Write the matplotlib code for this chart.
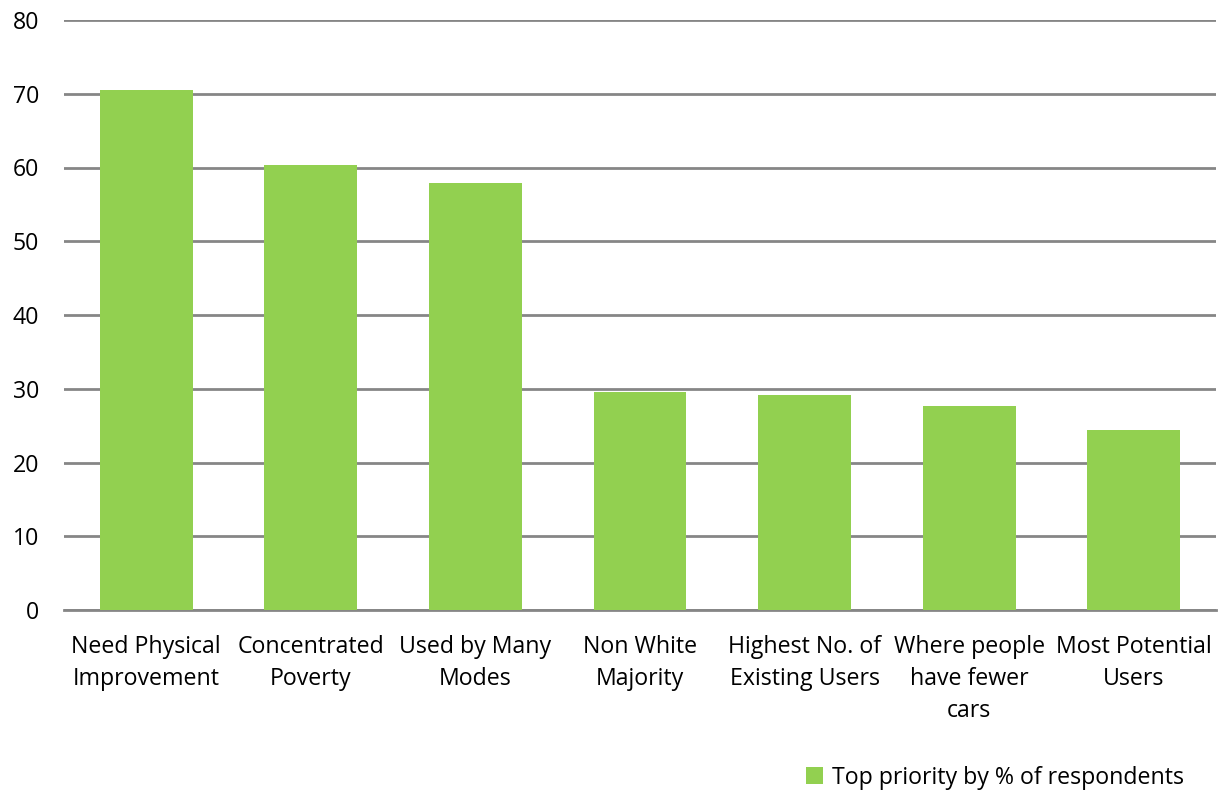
import matplotlib
matplotlib.use("Agg")
import matplotlib.pyplot as plt
from matplotlib.patches import Patch

categories = ["Need Physical\nImprovement", "Concentrated\nPoverty", "Used by Many\nModes",
              "Non White\nMajority", "Highest No. of\nExisting Users", "Where people\nhave fewer\ncars",
              "Most Potential\nUsers"]
values = [70.5, 60.3, 57.9, 29.6, 29.1, 27.7, 24.4]
series_name = "Top priority by % of respondents"
yticks = [0, 10, 20, 30, 40, 50, 60, 70, 80]

plt.rcParams['font.family'] = ['Open Sans', 'DejaVu Sans']

fig = plt.figure(figsize=(12.18, 7.94), dpi=100)
ax = fig.add_axes([64/1218, 1-610/794, (1216-64)/1218, 590/794])

x = list(range(len(categories)))
ax.bar(x, values, width=0.565, color="#92D050", zorder=3)
ax.set_xlim(-0.5, len(categories) - 0.5)
ax.set_ylim(0, 80)
ax.set_yticks(yticks)
ax.set_yticklabels([str(t) for t in yticks])
ax.set_xticks(x)
ax.set_xticklabels(categories, linespacing=1.45)
ax.yaxis.grid(True, color="#868686", linewidth=2, zorder=0)
ax.xaxis.grid(False)
for s in ["top", "right", "left"]:
    ax.spines[s].set_visible(False)
ax.spines["bottom"].set_color("#868686")
ax.spines["bottom"].set_linewidth(2)
ax.tick_params(axis="both", length=0, labelsize=16.7, colors="black")
ax.tick_params(axis="y", pad=18)
ax.tick_params(axis="x", pad=18)

handles = [Patch(facecolor="#92D050", label=series_name)]
fig.legend(handles=handles, loc="center left", bbox_to_anchor=(806/1218, 1-778/794),
           frameon=False, fontsize=16.7, handlelength=0.75, handleheight=0.75, handletextpad=0.35,
           borderaxespad=0, borderpad=0)

fig.savefig("out.png", dpi=100)
